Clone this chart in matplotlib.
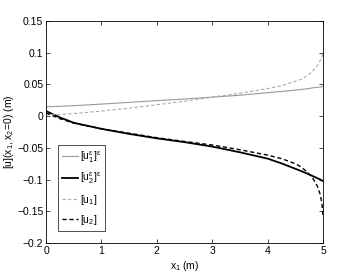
import numpy as np
import matplotlib.pyplot as plt

# values
x1 = [0, 0.25, 0.5, 1, 1.5, 2, 2.5, 3, 3.5, 4, 4.25, 4.5, 4.6, 4.7, 4.8, 4.85, 4.9, 4.95, 4.98, 5]
u1_eps = [0.0147, 0.0155, 0.0165, 0.019, 0.0217, 0.0245, 0.027, 0.030, 0.033, 0.037,
          0.039, 0.041, 0.042, 0.043, 0.0445, 0.045, 0.0455, 0.046, 0.0465, 0.047]
u2_eps = [0.008, -0.002, -0.0105, -0.020, -0.028, -0.035, -0.041, -0.048, -0.057, -0.067,
          -0.0745, -0.083, -0.0865, -0.090, -0.094, -0.096, -0.098, -0.100, -0.1015, -0.1025]
u1 = [0.003, 0.0025, 0.004, 0.008, 0.0125, 0.018, 0.0235, 0.030, 0.036, 0.0435,
      0.048, 0.055, 0.058, 0.063, 0.070, 0.075, 0.080, 0.088, 0.094, 0.100]
u2 = [0.005, -0.004, -0.011, -0.020, -0.027, -0.034, -0.040, -0.0455, -0.053, -0.0615,
      -0.067, -0.075, -0.080, -0.087, -0.096, -0.103, -0.111, -0.124, -0.138, -0.160]

yticks = [-0.2, -0.15, -0.1, -0.05, 0, 0.05, 0.1, 0.15]
ytick_labels = ["\u22120.2", "\u22120.15", "\u22120.1", "\u22120.05", "0", "0.05", "0.1", "0.15"]
xticks = [0, 1, 2, 3, 4, 5]

plt.rcParams['font.family'] = ['Liberation Sans', 'DejaVu Sans']
plt.rcParams['mathtext.fontset'] = 'custom'
plt.rcParams['mathtext.rm'] = 'Liberation Sans'
plt.rcParams['mathtext.it'] = 'Liberation Sans'

fig = plt.figure(figsize=(3.57, 2.73), dpi=100)
ax = fig.add_axes([0.129, 0.110, 0.776, 0.813])

ax.plot(x1, u1_eps, color='#999999', lw=0.8, label=r'$[\mathrm{u}_1^\varepsilon]^\varepsilon$')
ax.plot(x1, u2_eps, color='black', lw=1.3, label=r'$[\mathrm{u}_2^\varepsilon]^\varepsilon$')
ax.plot(x1, u1, color='#aaaaaa', lw=0.8, ls=(0, (3, 2)), label=r'$[\mathrm{u}_1]$')
ax.plot(x1, u2, color='black', lw=1.0, ls=(0, (3, 2)), label=r'$[\mathrm{u}_2]$')

ax.set_xlim(0, 5)
ax.set_ylim(-0.2, 0.15)
ax.set_xticks(xticks)
ax.set_xticklabels([str(t) for t in xticks])
ax.set_yticks(yticks)
ax.set_yticklabels(ytick_labels)
ax.tick_params(direction='in', length=3, width=0.5, labelsize=7.5, top=True, right=True, pad=2)
for s in ax.spines.values():
    s.set_linewidth(0.6)

ax.set_xlabel(r'$\mathrm{x}_1$ (m)', fontsize=7.5, labelpad=2)
ax.set_ylabel(r'$[\mathrm{u}](\mathrm{x}_1,\mathrm{x}_2\!=\!0)$ (m)', fontsize=7.5, labelpad=1)

leg = ax.legend(loc='lower left', bbox_to_anchor=(0.043, 0.054), borderaxespad=0,
                fontsize=7.5, handlelength=1.5, handletextpad=0.2, labelspacing=0.6,
                borderpad=0.4, fancybox=False, frameon=True)
leg.get_frame().set_edgecolor('black')
leg.get_frame().set_linewidth(0.6)

fig.savefig('out.png', dpi=100)
